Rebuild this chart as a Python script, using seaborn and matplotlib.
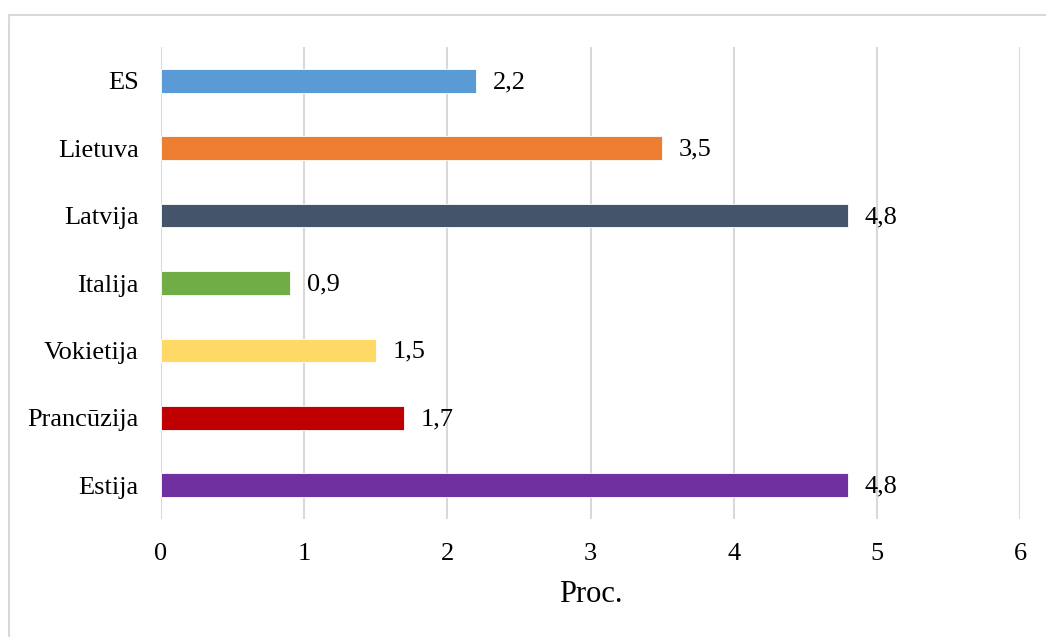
import matplotlib
matplotlib.use("Agg")
import matplotlib.pyplot as plt
import seaborn as sns
import pandas as pd
from matplotlib.patches import Rectangle

categories = ["ES", "Lietuva", "Latvija", "Italija", "Vokietija", "Prancūzija", "Estija"]
values = [2.2, 3.5, 4.8, 0.9, 1.5, 1.7, 4.8]
colors = ["#5B9BD5", "#ED7D31", "#44546A", "#70AD47", "#FFD966", "#C00000", "#7030A0"]
xticks = [0, 1, 2, 3, 4, 5, 6]
xlabel = "Proc."

sns.set_theme(style="white")
plt.rcParams['font.family'] = ['Liberation Serif', 'DejaVu Serif']

df = pd.DataFrame({"cat": categories, "val": values})

fig = plt.figure(figsize=(10.46, 6.37), dpi=100)
ax = fig.add_axes([161/1046, 1-519/637, (1020-161)/1046, (519-47)/637])

sns.barplot(data=df, y="cat", x="val", hue="cat", palette=colors, order=categories,
            hue_order=categories, legend=False, width=0.35, saturation=1, ax=ax,
            edgecolor="white", linewidth=0.6, zorder=3)

ax.set_xlim(0, 6)
ax.set_ylim(6.5, -0.5)
ax.set_xticks(xticks)
ax.set_xticklabels([str(t) for t in xticks])
ax.grid(axis="x", color="#D9D9D9", linewidth=1.5, zorder=0)
ax.grid(axis="y", visible=False)
for s in ax.spines.values():
    s.set_visible(False)
ax.tick_params(axis="both", length=0, labelsize=19, colors="#000000")
ax.tick_params(axis="y", pad=16)
ax.tick_params(axis="x", pad=17)
ax.set_ylabel("")
ax.set_xlabel(xlabel, fontsize=22, color="#000000", labelpad=11)

for i, v in enumerate(values):
    ax.annotate(f"{v:.1f}".replace(".", ","), xy=(v, i), xytext=(12, -1),
                textcoords="offset points", ha="left", va="center",
                fontsize=19, color="#000000", zorder=4)

fig.patches.append(Rectangle((9/1046, -0.2), 1.2, 1.2-15/637, transform=fig.transFigure,
                             fill=False, edgecolor="#D9D9D9", linewidth=1.5))

fig.savefig("out.png", dpi=100)
